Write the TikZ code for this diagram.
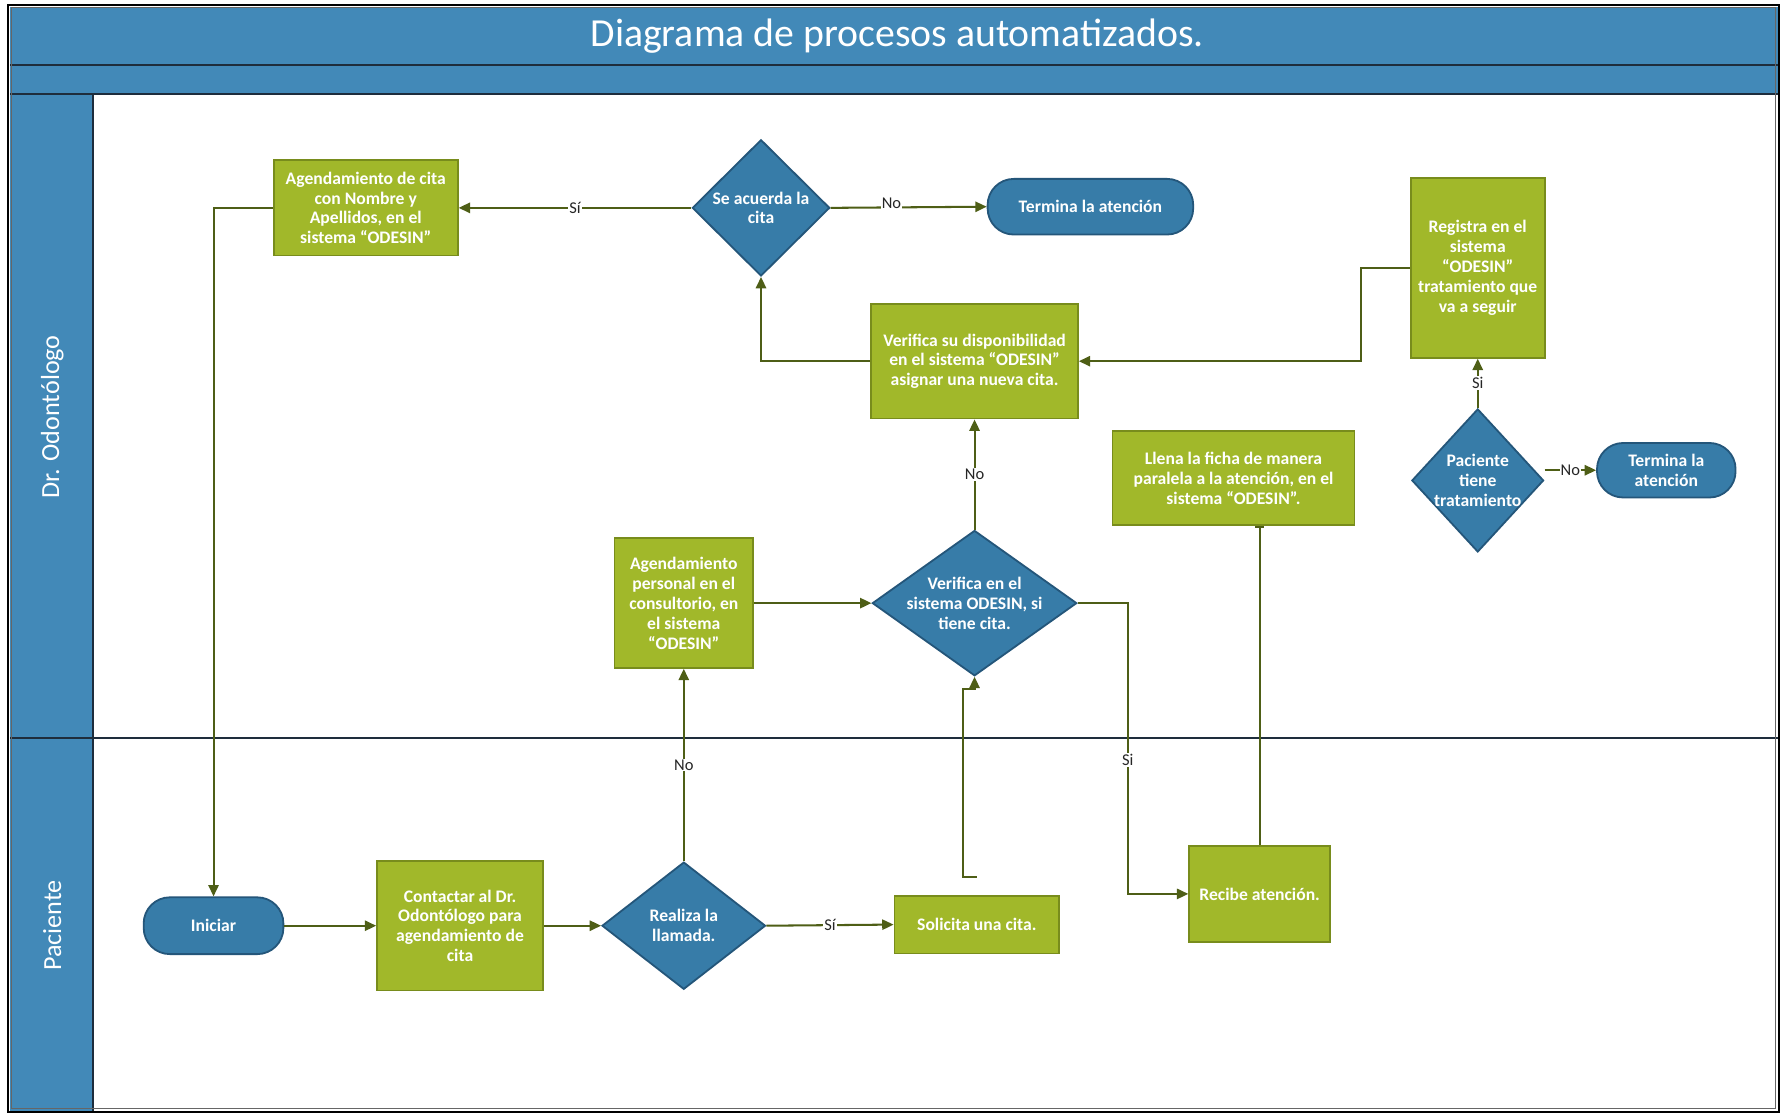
\documentclass[tikz,border=0pt]{standalone}
\usepackage{fontspec}
\setmainfont{Carlito}
\usetikzlibrary{shapes.geometric,arrows.meta}
\definecolor{hblue}{RGB}{66,137,184}
\definecolor{dblue}{RGB}{55,124,168}
\definecolor{dbord}{RGB}{36,86,122}
\definecolor{gfill}{RGB}{161,184,42}
\definecolor{gbord}{RGB}{120,140,28}
\definecolor{conncol}{RGB}{78,94,22}
\definecolor{frameline}{RGB}{30,45,60}
\tikzset{
  boxtext/.style={text=white,font=\bfseries\fontsize{15.5}{17.5}\selectfont,align=center},
  gbox/.style={boxtext,rectangle,fill=gfill,draw=gbord,line width=1.6pt,inner sep=0pt},
  term/.style={boxtext,rectangle,fill=dblue,draw=dbord,line width=1.6pt,inner sep=0pt,rounded corners=23pt},
  dia/.style={diamond,fill=dblue,draw=dbord,line width=1.6pt,inner sep=0pt},
  dtext/.style={boxtext,inner sep=0pt},
  conn/.style={draw=conncol,line width=1.8pt,-{Triangle[length=10pt,width=9pt]}},
  barconn/.style={draw=conncol,line width=1.8pt,-{Bar[width=8pt]}},
  lbl/.style={fill=white,text=black!85,font=\fontsize{14.5}{16}\selectfont,inner sep=1pt},
  lanetext/.style={text=white,font=\fontsize{23}{26}\selectfont,rotate=90}
}
\begin{document}
\begin{tikzpicture}[x=1pt,y=-1pt]
\useasboundingbox (0,0) rectangle (1568,981);
\fill[white] (0,0) rectangle (1568,981);
% bands
\fill[hblue] (9,6) rectangle (1565,83);
\fill[hblue] (9,83) rectangle (82,978);
\draw[frameline,line width=2pt] (9,57) -- (1565,57);
\draw[frameline,line width=2pt] (9,83) -- (1565,83);
\draw[frameline,line width=2pt] (82,83) -- (82,978);
\draw[frameline,line width=1.6pt] (9,650) -- (1565,650);
\draw[black,line width=1.8pt] (7,4) rectangle (1566,979);
\draw[black!60,line width=0.8pt] (10,7) rectangle (1563,976);
\node[text=white,font=\fontsize{35}{38}\selectfont] (title) at (790,32) {Diagrama de procesos automatizados.};
\node[lanetext] (lane1) at (46,367) {Dr. Odontólogo};
\node[lanetext] (lane2) at (46,815) {Paciente};
% Dr. Odontologo lane
\node[gbox,minimum width=162pt,minimum height=84pt] (a1) at (322,183) {Agendamiento de cita\\con Nombre y\\Apellidos, en el\\sistema “ODESIN”};
\node[dia,minimum width=121pt,minimum height=120pt,label={[dtext]center:Se acuerda la\\cita}] (d1) at (670,183) {};
\node[term,minimum width=181pt,minimum height=49pt] (t1) at (960,182) {Termina la atención};
\node[gbox,minimum width=182pt,minimum height=101pt] (v1) at (858,318) {Verifica su disponibilidad\\en el sistema “ODESIN”\\asignar una nueva cita.};
\node[gbox,minimum width=118pt,minimum height=158pt] (r1) at (1301,236) {Registra en el\\sistema\\“ODESIN”\\tratamiento que\\va a seguir};
\node[dia,minimum width=116pt,minimum height=126pt,label={[dtext]center:Paciente\\tiene\\tratamiento}] (d2) at (1301,423) {};
\node[term,minimum width=122pt,minimum height=48pt] (t2) at (1467,414) {Termina la\\atención};
\node[gbox,minimum width=213pt,minimum height=83pt] (l1) at (1086,421) {Llena la ficha de manera\\paralela a la atención, en el\\sistema “ODESIN”.};
\node[gbox,minimum width=122pt,minimum height=114pt] (a2) at (602,531) {Agendamiento\\personal en el\\consultorio, en\\el sistema\\“ODESIN”};
\node[dia,minimum width=180pt,minimum height=128pt,label={[dtext]center:Verifica en el\\sistema ODESIN, si\\tiene cita.}] (d3) at (858,531) {};
% Paciente lane
\node[term,minimum width=123pt,minimum height=50pt] (i) at (188,815) {Iniciar};
\node[gbox,minimum width=146pt,minimum height=114pt] (c) at (405,815) {Contactar al Dr.\\Odontólogo para\\agendamiento de\\cita};
\node[dia,minimum width=144pt,minimum height=112pt,label={[dtext]center:Realiza la\\llamada.}] (d4) at (602,815) {};
\node[gbox,minimum width=145pt,minimum height=51pt] (s) at (860,814) {Solicita una cita.};
\node[gbox,minimum width=124pt,minimum height=84pt] (ra) at (1109,787) {Recibe atención.};
% connectors
\draw[conn] (d1.west) -- node[lbl]{Sí} (a1.east);
\draw[conn] (d1.east) -- node[lbl,pos=0.39,yshift=4pt]{No} (t1.west);
\draw[conn] (a1.west) -| (i.north);
\draw[conn] (v1.west) -| (d1.south);
\draw[conn] (r1.west) -- ++(-43,0) |- (v1.east);
\draw[conn] (d2.north) -- node[lbl]{Si} (r1.south);
\draw[conn] (t2.west -| d2.east) -- node[lbl]{No} (t2.west);
\draw[conn] (d3.north) -- node[lbl]{No} (v1.south);
\draw[conn] (a2.east) -- (d3.west);
\draw[conn] (d3.east) -- ++(44,0) |- node[lbl,pos=0.27]{Si} (ra.west);
\draw[barconn] (ra.north) -- (ra.north |- l1.south);
\draw[conn] (i.east) -- (c.west);
\draw[conn] (c.east) -- (d4.west);
\draw[conn] (d4.north) -- node[lbl]{No} (a2.south);
\draw[conn] (d4.east) -- node[lbl]{Sí} (s.west);
\draw[conn] ([yshift=16pt]s.north) -- ++(-12,0) -- ++(0,-165) -| (d3.south);
\end{tikzpicture}
\end{document}
